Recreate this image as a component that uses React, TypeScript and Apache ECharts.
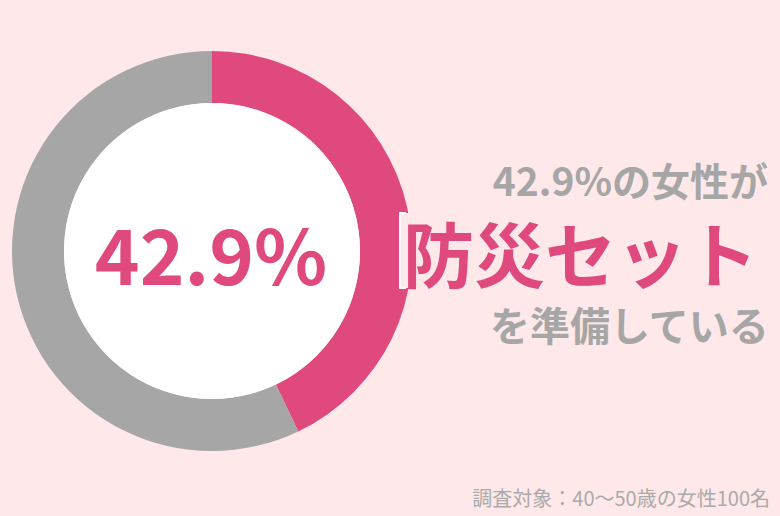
import React, { useEffect, useRef } from "react";
import * as echarts from "echarts";

const categories = ["防災セットを準備している", "準備していない"];
const values = [42.9, 57.1];
const centerLabel = "42.9%";
const headLine = "42.9%の女性が";
const keyword = "防災セット";
const tailLine = "を準備している";
const note = "調査対象：40〜50歳の女性100名";

const BG = "#fee8e9";
const PINK = "#df497e";
const GRAY = "#a6a6a6";
const FONT = '"Noto Sans CJK JP", "Noto Sans", sans-serif';

export default function App() {
  const ref = useRef<HTMLDivElement>(null);
  useEffect(() => {
    if (!ref.current) return;
    const chart = echarts.init(ref.current, undefined, { renderer: "svg" });
    chart.setOption({
      animation: false,
      backgroundColor: BG,
      series: [
        {
          type: "pie",
          center: [212, 251],
          radius: [148, 200],
          startAngle: 90,
          clockwise: true,
          silent: true,
          label: { show: false },
          labelLine: { show: false },
          itemStyle: { borderWidth: 0 },
          data: categories.map((c, i) => ({
            name: c,
            value: values[i],
            itemStyle: { color: i === 0 ? PINK : GRAY },
          })),
        },
        {
          type: "pie",
          center: [212, 251],
          radius: [0, 148],
          silent: true,
          label: { show: false },
          labelLine: { show: false },
          data: [{ name: "inner", value: 1, itemStyle: { color: "#ffffff" } }],
        },
      ],
      graphic: [
        {
          type: "text",
          z: 100,
          x: 211,
          y: 252,
          style: {
            text: centerLabel,
            fill: PINK,
            font: `bold 76px ${FONT}`,
            align: "center",
            verticalAlign: "middle",
          },
        },
        {
          type: "text",
          z: 100,
          right: 12,
          top: 159,
          style: {
            text: headLine,
            fill: GRAY,
            font: `bold 39px ${FONT}`,
            lineHeight: 39,
          },
        },
        {
          type: "rect",
          z: 99,
          shape: { x: 399, y: 213, width: 365, height: 75 },
          style: { fill: BG },
        },
        {
          type: "polyline",
          z: 100,
          shape: { points: [[406, 213], [400, 213], [400, 288], [406, 288]] },
          style: { stroke: "#ffffff", lineWidth: 2, fill: null },
        },
        {
          type: "text",
          z: 100,
          left: 403,
          top: 215,
          style: {
            text: keyword,
            fill: PINK,
            font: `bold 71px ${FONT}`,
            lineHeight: 71,
          },
        },
        {
          type: "text",
          z: 100,
          right: 10,
          top: 304,
          style: {
            text: tailLine,
            fill: GRAY,
            font: `bold 40px ${FONT}`,
            lineHeight: 40,
          },
        },
        {
          type: "text",
          z: 100,
          right: 10,
          top: 486,
          style: {
            text: note,
            fill: "#aaaaaa",
            font: `20px ${FONT}`,
            lineHeight: 22,
          },
        },
      ],
    });
    return () => chart.dispose();
  }, []);
  return (
    <div
      ref={ref}
      style={{ position: "fixed", left: 0, top: 0, width: 780, height: 516 }}
    />
  );
}
